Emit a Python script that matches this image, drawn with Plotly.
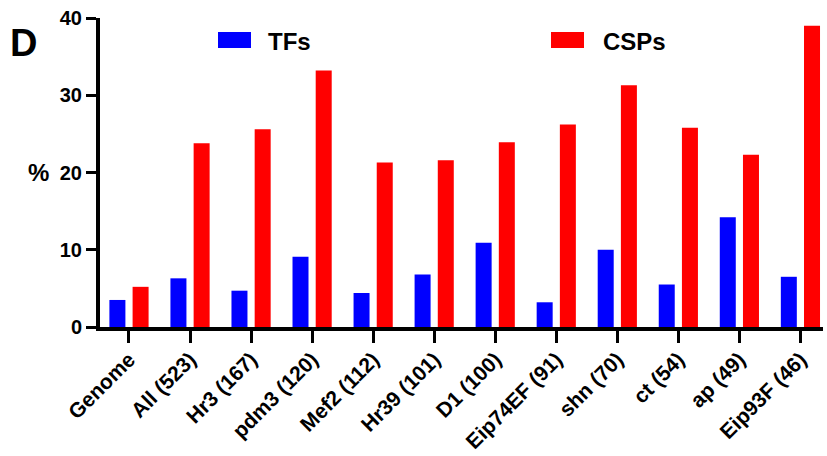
import plotly.graph_objects as go

categories = ["Genome", "All (523)", "Hr3 (167)", "pdm3 (120)", "Mef2 (112)", "Hr39 (101)",
              "D1 (100)", "Eip74EF (91)", "shn (70)", "ct (54)", "ap (49)", "Eip93F (46)"]
tfs = [3.5, 6.3, 4.7, 9.1, 4.4, 6.8, 10.9, 3.2, 10.0, 5.5, 14.2, 6.5]
csps = [5.2, 23.8, 25.6, 33.2, 21.3, 21.6, 23.9, 26.2, 31.3, 25.8, 22.3, 39.0]
yticks = [0, 10, 20, 30, 40]

FONT = "Liberation Sans, Arial, sans-serif"
BLUE = "#0000ff"
RED = "#ff0000"

fig = go.Figure()
fig.add_trace(go.Bar(x=categories, y=tfs, name="TFs", marker=dict(color=BLUE, line=dict(width=0))))
fig.add_trace(go.Bar(x=categories, y=csps, name="CSPs", marker=dict(color=RED, line=dict(width=0))))

fig.update_layout(
    width=827, height=456,
    margin=dict(l=100, r=4, t=18, b=129),
    plot_bgcolor="white", paper_bgcolor="white",
    barmode="group", bargap=0.24, bargroupgap=0.31,
    showlegend=False,
    font=dict(family=FONT, color="black"),
)
fig.update_xaxes(
    type="category", range=[-0.475, 11.37], automargin=False,
    showline=True, linecolor="black", linewidth=4,
    ticks="outside", ticklen=12, tickwidth=3, tickcolor="black",
    tickangle=-45, ticklabelstandoff=-4,
    tickfont=dict(family=FONT, size=21, weight="bold", color="black"),
    showgrid=False, zeroline=False,
)
fig.update_yaxes(
    range=[0, 40], tickvals=yticks, automargin=False,
    showline=True, linecolor="black", linewidth=4,
    ticks="outside", ticklen=10, tickwidth=3, tickcolor="black",
    tickfont=dict(family=FONT, size=20, weight="bold", color="black"),
    showgrid=False, zeroline=False,
)

# Legend drawn manually
fig.add_shape(type="rect", xref="paper", yref="paper",
              x0=(218-100)/723, x1=(251-100)/723, y0=(456-129-48)/309, y1=(456-129-32)/309,
              fillcolor=BLUE, line=dict(width=0))
fig.add_shape(type="rect", xref="paper", yref="paper",
              x0=(551-100)/723, x1=(584-100)/723, y0=(456-129-48)/309, y1=(456-129-32)/309,
              fillcolor=RED, line=dict(width=0))
fig.add_annotation(xref="paper", yref="paper", x=(266-100)/723, y=(456-129-41)/309,
                   text="<b>TFs</b>", showarrow=False, xanchor="left", yanchor="middle",
                   font=dict(family=FONT, size=24, color="black"))
fig.add_annotation(xref="paper", yref="paper", x=(601-100)/723, y=(456-129-41)/309,
                   text="<b>CSPs</b>", showarrow=False, xanchor="left", yanchor="middle",
                   font=dict(family=FONT, size=24, color="black"))

# Panel letter and axis label
fig.add_annotation(xref="paper", yref="paper", x=(8-100)/723, y=(456-129-43)/309,
                   text="<b>D</b>", showarrow=False, xanchor="left", yanchor="middle",
                   font=dict(family=FONT, size=38, color="black"))
fig.add_annotation(xref="paper", yref="paper", x=(38-100)/723, y=(456-129-172)/309,
                   text="<b>%</b>", showarrow=False, xanchor="center", yanchor="middle",
                   font=dict(family=FONT, size=24, color="black"))

fig.write_html("out.html")
